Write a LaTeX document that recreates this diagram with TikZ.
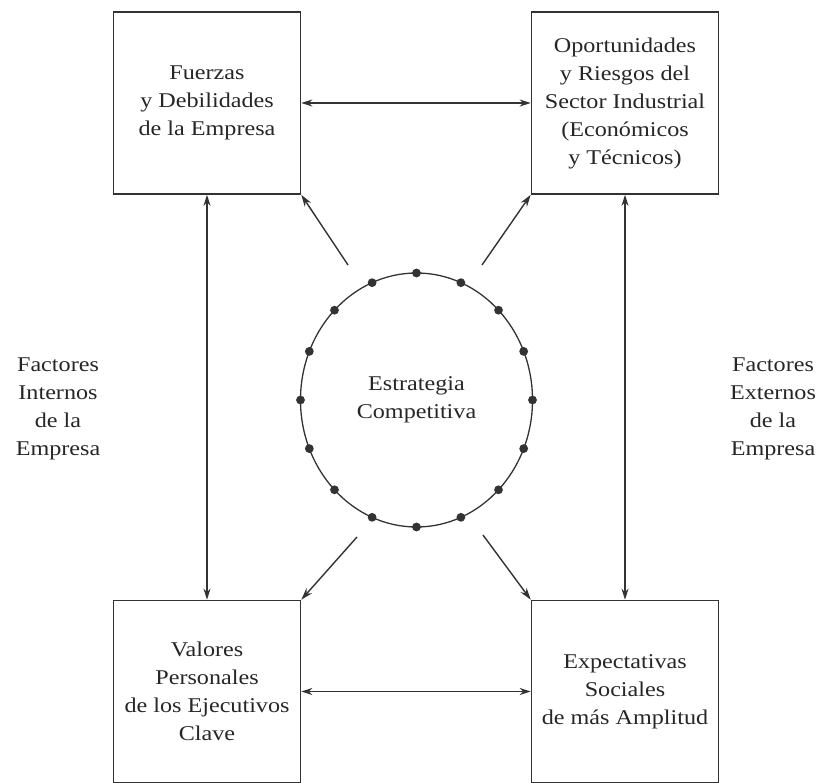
\documentclass[tikz,border=0pt]{standalone}
\usepackage{fontspec}
\setmainfont[FakeStretch=1.15]{Liberation Serif}
\usetikzlibrary{arrows.meta,shapes.geometric}
\begin{document}
\begin{tikzpicture}[x=1pt,y=-1pt,
  txt/.style={text=black!85, align=center, font=\fontsize{21}{28}\selectfont},
  panel/.style={txt, draw=black!80, line width=1.6pt, minimum width=187pt,
    minimum height=182pt, inner sep=0pt},
  sidenote/.style={txt},
  link/.style={draw=black!80, line width=1.4pt,
    {Stealth[length=11pt,width=7pt]}-{Stealth[length=11pt,width=7pt]}},
  push/.style={draw=black!80, line width=1.4pt, -{Stealth[length=12pt,width=7.5pt]}},
  bead/.style={fill=black!80}
]
\useasboundingbox (0,0) rectangle (822,783);

% the four surrounding blocks
\node[panel] (tl) at (207,103)   {Fuerzas\\y Debilidades\\de la Empresa};
\node[panel] (tr) at (625,103)   {Oportunidades\\y Riesgos del\\Sector Industrial\\(Económicos\\y Técnicos)};
\node[panel] (bl) at (207,691.5) {Valores\\Personales\\de los Ejecutivos\\Clave};
\node[panel] (br) at (625,691.5) {Expectativas\\Sociales\\de más Amplitud};

% central strategy ellipse with its beads
\node[txt, draw=black!80, line width=1.3pt, ellipse, inner sep=0pt,
  minimum width=232pt, minimum height=254pt] (core) at (416.5,400)
  {Estrategia\\Competitiva};
\foreach \a in {0,22.5,...,337.5}
  \fill[bead] ({416.5+116*cos(\a)},{400-127*sin(\a)}) circle (4.4pt);

% side labels
\node[sidenote] (inner) at (58,409)  {Factores\\Internos\\de la\\Empresa};
\node[sidenote] (outer) at (773,409) {Factores\\Externos\\de la\\Empresa};

% mutual links between the blocks
\draw[link] (tl.east) -- (tr.west);
\draw[link] (bl.east) -- (br.west);
\draw[link] (tl.south) -- (bl.north);
\draw[link] (tr.south) -- (br.north);

% arrows radiating from the strategy toward each block
\coordinate (tlTail) at (348,265);
\coordinate (trTail) at (482,265);
\coordinate (blTail) at (357,537);
\coordinate (brTail) at (483,535);
\draw[push] (tlTail) -- (tl.south east);
\draw[push] (trTail) -- (tr.south west);
\draw[push] (blTail) -- (bl.north east);
\draw[push] (brTail) -- (br.north west);
\end{tikzpicture}
\end{document}
